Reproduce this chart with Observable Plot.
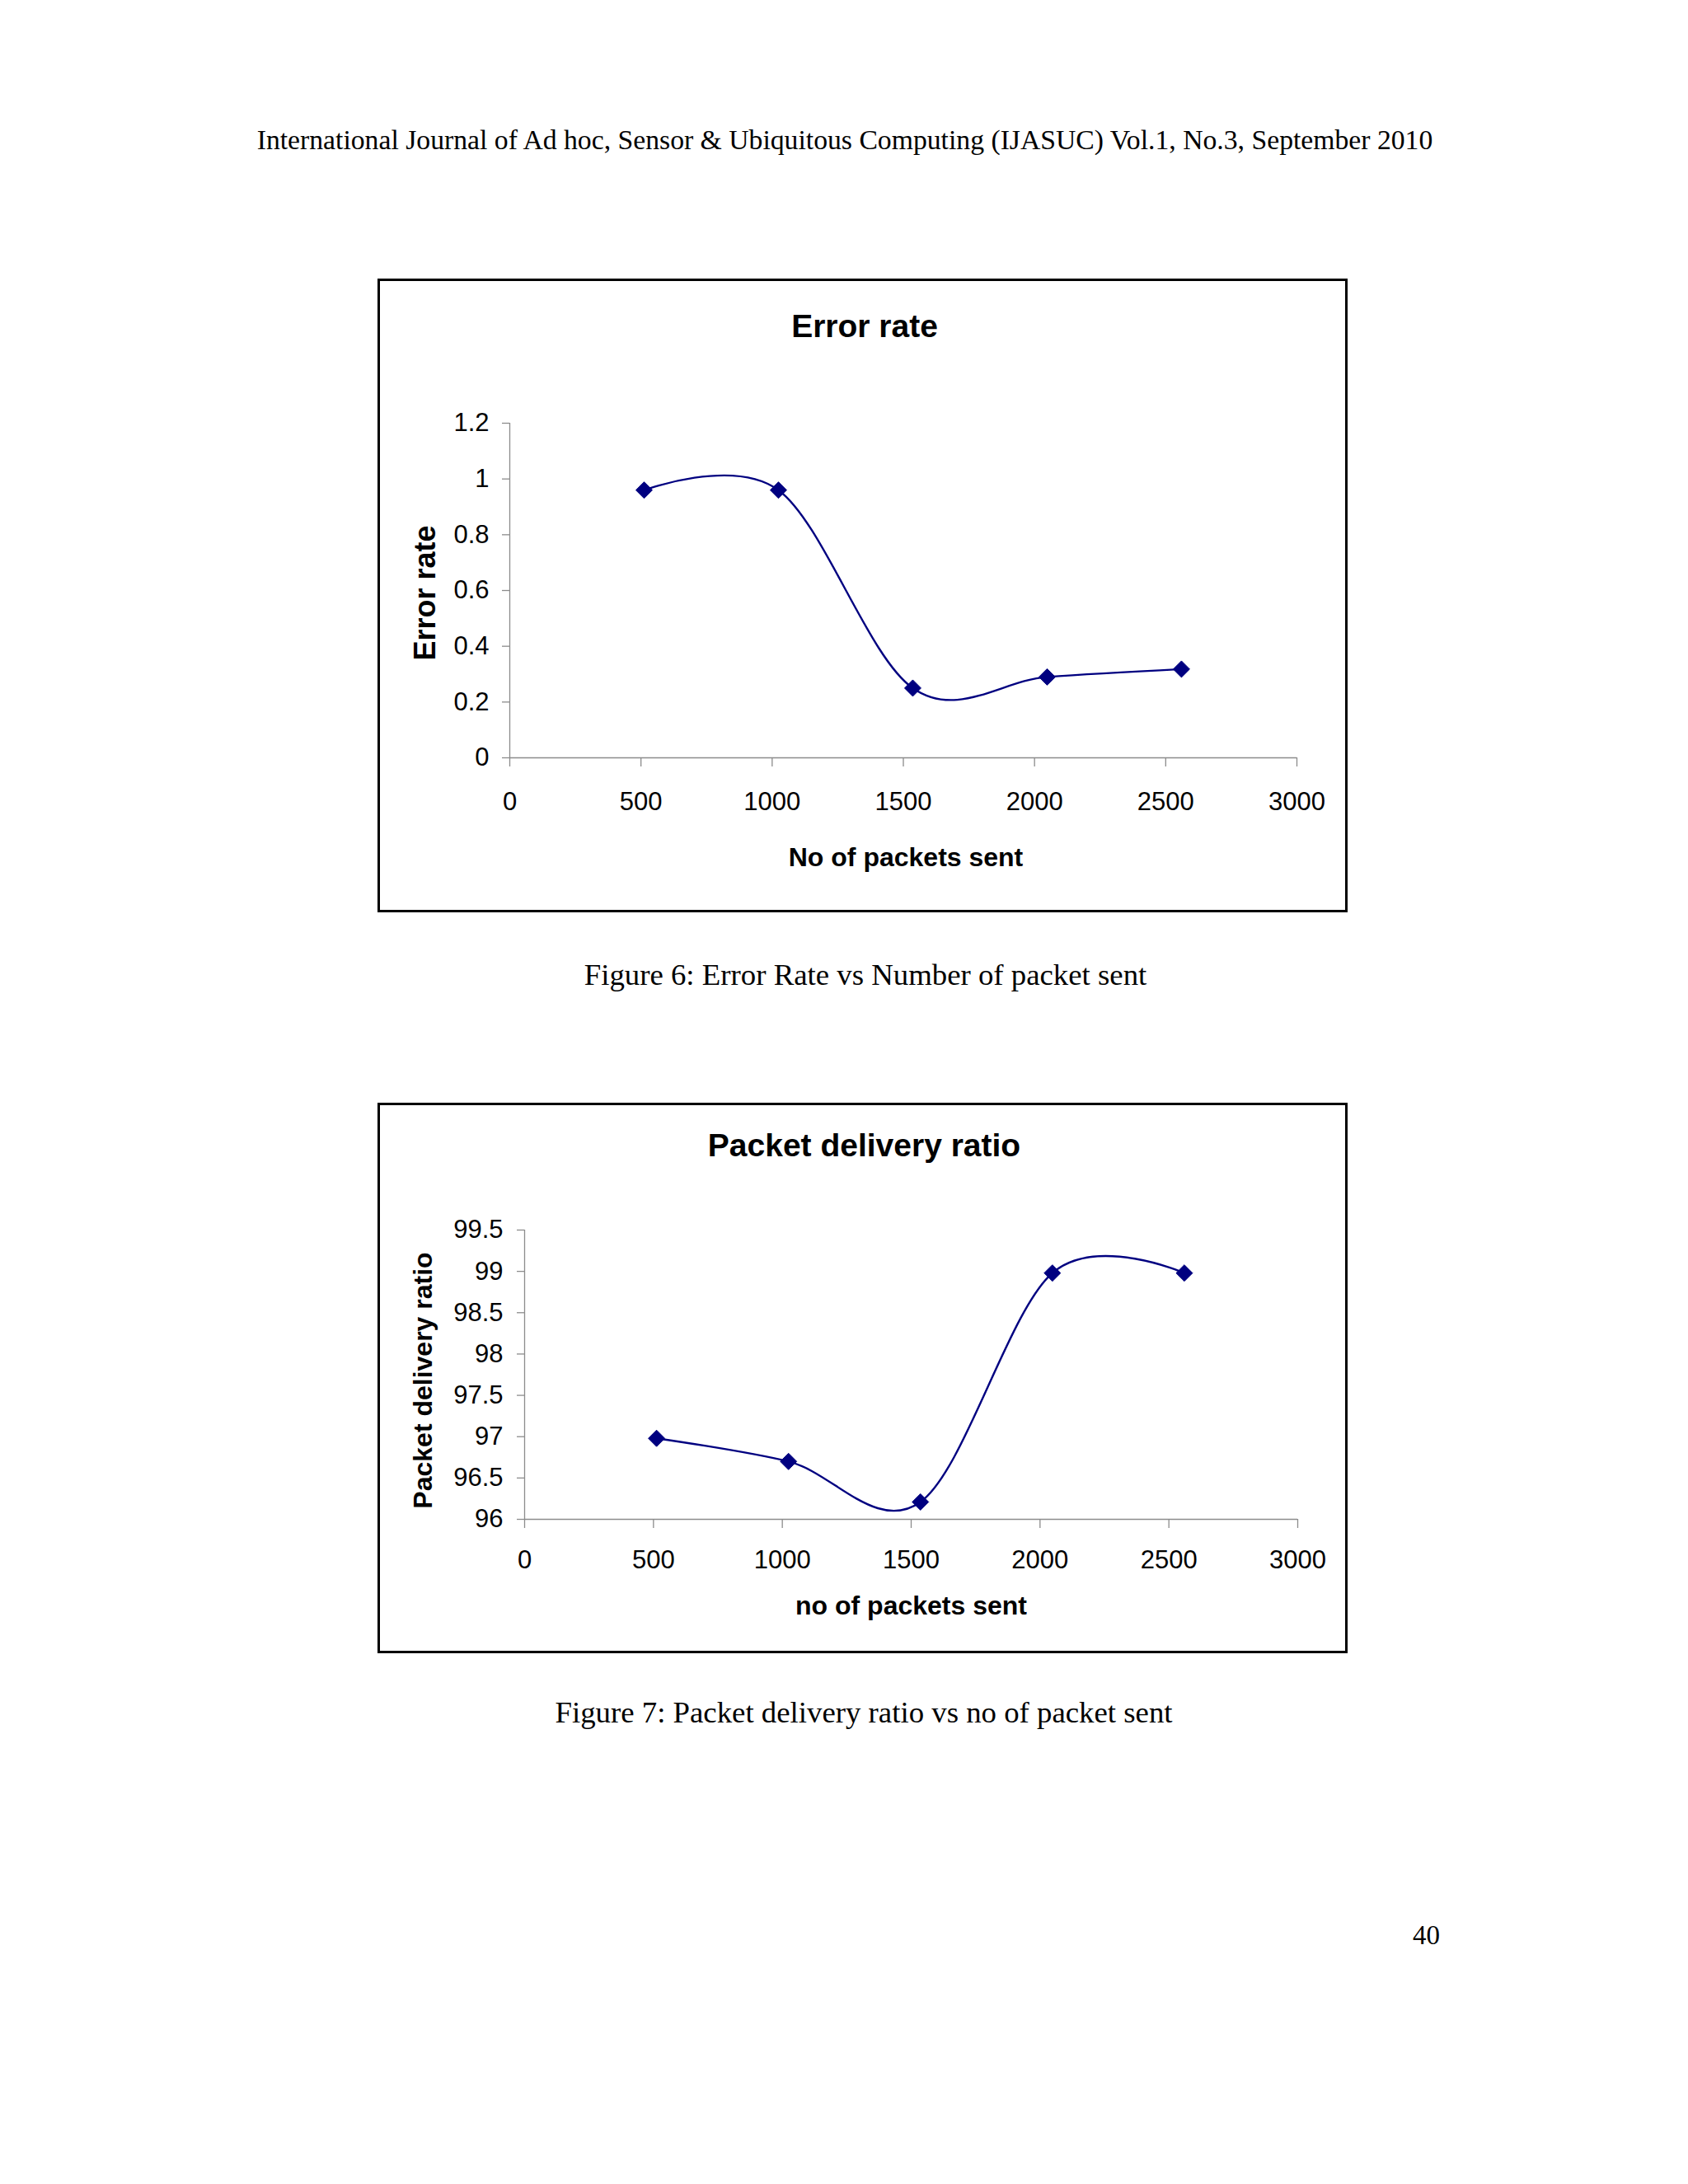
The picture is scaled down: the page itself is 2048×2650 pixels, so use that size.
<!DOCTYPE html>
<html>
<head>
<meta charset="utf-8">
<script src="https://cdn.jsdelivr.net/npm/d3@7"></script>
<script src="https://cdn.jsdelivr.net/npm/@observablehq/plot@0.6"></script>
<style>
  html, body { margin: 0; padding: 0; background: #fff; }
  #page { position: relative; width: 2048px; height: 2650px; background: #fff; overflow: hidden; }
  .serif { position: absolute; font-family: "Liberation Serif", "Times New Roman", serif; color: #000; white-space: nowrap; line-height: 1; }
  .frame { position: absolute; border: 3px solid #000; box-sizing: border-box; pointer-events: none; }
  .chart { position: absolute; }
</style>
</head>
<body>
<div id="page">
  <div class="serif" id="header" style="left:0; width:2050px; text-align:center; top:153px; font-size:33.7px;">International Journal of Ad hoc, Sensor &amp; Ubiquitous Computing (IJASUC) Vol.1, No.3, September 2010</div>

  <div class="chart" id="chart1" style="left:458px; top:338px;"></div>
  <div class="frame" style="left:458px; top:338px; width:1177px; height:769px;"></div>
  <div class="serif" style="left:0; width:2100px; text-align:center; top:1165px; font-size:36.8px;">Figure 6: Error Rate vs Number of packet sent</div>

  <div class="chart" id="chart2" style="left:458px; top:1338px;"></div>
  <div class="frame" style="left:458px; top:1338px; width:1177px; height:668px;"></div>
  <div class="serif" style="left:0; width:2096px; text-align:center; top:2060px; font-size:36.8px;">Figure 7: Packet delivery ratio vs no of packet sent</div>

  <div class="serif" style="left:1714px; top:2332px; font-size:33px;">40</div>
</div>
<script>
// ---- data ----
const packetsSent = [512, 1024, 1536, 2048, 2560];
const errorRate = [0.96, 0.96, 0.25, 0.29, 0.318];
const deliveryRatio = [96.98, 96.70, 96.21, 98.98, 98.98];

const xTicks = [0, 500, 1000, 1500, 2000, 2500, 3000];
const errorTicks = [0, 0.2, 0.4, 0.6, 0.8, 1, 1.2];
const ratioTicks = [96, 96.5, 97, 97.5, 98, 98.5, 99, 99.5];

const chart1Title = "Error rate";
const chart1XLabel = "No of packets sent";
const chart1YLabel = "Error rate";
const chart2Title = "Packet delivery ratio";
const chart2XLabel = "no of packets sent";
const chart2YLabel = "Packet delivery ratio";

// ---- style ----
const FONT = '"Liberation Sans", Arial, Helvetica, sans-serif';
const NAVY = "#000080";
const AXIS = "#8c8c8c";

const rows1 = packetsSent.map((p, i) => ({packets: p, value: errorRate[i]}));
const rows2 = packetsSent.map((p, i) => ({packets: p, value: deliveryRatio[i]}));

function makeChart(rows, cfg) {
  return Plot.plot({
    width: 1177,
    height: cfg.height,
    marginLeft: cfg.marginLeft,
    marginRight: cfg.marginRight,
    marginTop: cfg.marginTop,
    marginBottom: cfg.marginBottom,
    x: {domain: [0, 3000]},
    y: {domain: cfg.yDomain},
    style: {fontFamily: FONT, background: "none", overflow: "visible", color: "#000"},
    marks: [
      Plot.ruleY([cfg.yDomain[0]], {stroke: AXIS, strokeWidth: 1.3}),
      Plot.ruleX([0], {stroke: AXIS, strokeWidth: 1.3}),
      Plot.axisX({ticks: xTicks, tickFormat: (d) => String(d), tickSize: 11, tickPadding: cfg.xPad, fontSize: 31,
                  stroke: AXIS, strokeWidth: 1.3, fill: "#000", label: null}),
      Plot.axisY({ticks: cfg.yTicks, tickFormat: (d) => String(d), tickSize: 9, tickPadding: cfg.yPad, fontSize: 31,
                  stroke: AXIS, strokeWidth: 1.3, fill: "#000", label: null}),
      Plot.line(rows, {x: "packets", y: "value", curve: "cardinal", tension: 0,
                       stroke: NAVY, strokeWidth: 2.4}),
      Plot.dot(rows, {x: "packets", y: "value", symbol: "diamond2", r: 9,
                      fill: NAVY, stroke: NAVY, strokeWidth: 1}),
      Plot.text([cfg.title], {frameAnchor: "top", dx: cfg.titleDx, dy: cfg.titleDy, textAnchor: "middle",
                              lineAnchor: "bottom", fontSize: cfg.titleSize, fontWeight: "bold", fill: "#000"}),
      Plot.text([cfg.xLabel], {frameAnchor: "bottom", dx: cfg.xLabelDx, dy: cfg.xLabelDy, textAnchor: "middle",
                               lineAnchor: "bottom", fontSize: 32, fontWeight: "bold", fill: "#000"}),
      Plot.text([cfg.yLabel], {frameAnchor: "left", dx: cfg.yLabelDx, dy: cfg.yLabelDy, rotate: -90,
                               textAnchor: "middle", lineAnchor: "bottom",
                               fontSize: cfg.yLabelSize, fontWeight: "bold", fill: "#000"})
    ]
  });
}

document.getElementById("chart1").appendChild(makeChart(rows1, {
  height: 769, marginLeft: 160, marginRight: 62, marginTop: 175, marginBottom: 188,
  yDomain: [0, 1.2], yTicks: errorTicks, xPad: 30, yPad: 16,
  title: chart1Title, titleDx: -47, titleDy: -105, titleSize: 39,
  xLabel: chart1XLabel, xLabelDx: 3, xLabelDy: 131,
  yLabel: chart1YLabel, yLabelDx: -91, yLabelDy: 3, yLabelSize: 36
}));

document.getElementById("chart2").appendChild(makeChart(rows2, {
  height: 668, marginLeft: 178, marginRight: 61, marginTop: 154, marginBottom: 163,
  yDomain: [96, 99.5], yTicks: ratioTicks, xPad: 26, yPad: 17,
  title: chart2Title, titleDx: -57, titleDy: -90, titleSize: 39,
  xLabel: chart2XLabel, xLabelDx: 0, xLabelDy: 115,
  yLabel: chart2YLabel, yLabelDx: -113, yLabelDy: 7, yLabelSize: 32
}));
</script>
</body>
</html>
